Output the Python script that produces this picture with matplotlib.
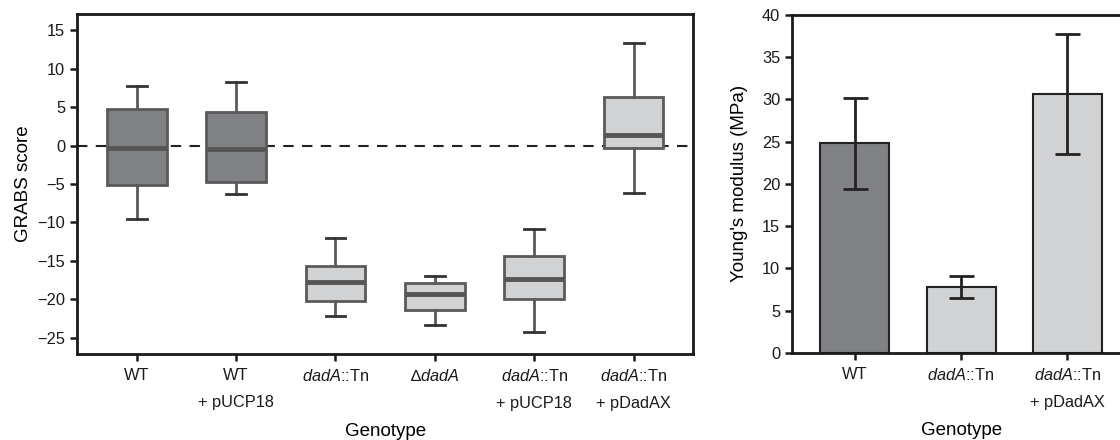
import matplotlib
matplotlib.use('Agg')
import matplotlib.pyplot as plt

plt.rcParams['font.family'] = ['Liberation Sans', 'DejaVu Sans']
plt.rcParams['mathtext.fontset'] = 'custom'
plt.rcParams['mathtext.rm'] = 'Liberation Sans'
plt.rcParams['mathtext.it'] = 'Liberation Sans:italic'

# левая панель: боксплоты GRABS score
box_labels = ['WT', 'WT\n+ pUCP18', r'$\it{dadA}$::Tn', '\u2206$\\it{dadA}$',
              '$\\it{dadA}$::Tn\n+ pUCP18', '$\\it{dadA}$::Tn\n+ pDadAX']
whislo = [-9.6, -6.3, -22.2, -23.3, -24.2, -6.2]
q1 = [-5.1, -4.7, -20.2, -21.4, -20.0, -0.3]
med = [-0.3, -0.45, -17.7, -19.3, -17.3, 1.35]
q3 = [4.7, 4.3, -15.7, -17.9, -14.4, 6.3]
whishi = [7.7, 8.2, -12.0, -17.0, -10.9, 13.3]
box_colors = ['#808185', '#808185', '#d1d2d4', '#d1d2d4', '#d1d2d4', '#d1d2d4']

# правая панель: модуль Юнга
bar_labels = ['WT', r'$\it{dadA}$::Tn', '$\\it{dadA}$::Tn\n+ pDadAX']
modulus = [24.8, 7.8, 30.6]
modulus_err = [5.4, 1.3, 7.1]
bar_colors = ['#808185', '#d1d2d4', '#d1d2d4']

fig = plt.figure(figsize=(11.2, 4.4), dpi=100)
ax1 = fig.add_axes([0.0688, 0.1955, 0.5502, 0.7727])
ax2 = fig.add_axes([0.7071, 0.198, 0.302, 0.768])

stats = []
for i in range(len(box_labels)):
    stats.append({'whislo': whislo[i], 'q1': q1[i], 'med': med[i],
                  'q3': q3[i], 'whishi': whishi[i], 'fliers': []})
pos = list(range(len(stats)))
ax1.axhline(0, color='#222222', lw=1.5, ls=(0, (5, 4)), zorder=1)
bp = ax1.bxp(stats, positions=pos, widths=0.6, capwidths=0.2, showfliers=False,
             patch_artist=True,
             boxprops=dict(edgecolor='#5a5a5a', linewidth=2),
             medianprops=dict(color='#555555', linewidth=3.5),
             whiskerprops=dict(color='#5a5a5a', linewidth=2),
             capprops=dict(color='#333333', linewidth=2))
for patch, c in zip(bp['boxes'], box_colors):
    patch.set_facecolor(c)
    patch.set_zorder(2)
ax1.set_xlim(-0.6, 5.6)
ax1.set_ylim(-27.1, 17.1)
ax1.set_yticks(range(-25, 16, 5))
ax1.set_yticklabels([str(v).replace('-', '\u2212') for v in range(-25, 16, 5)])
ax1.set_xticks(pos)
ax1.set_xticklabels(box_labels)
ax1.set_ylabel('GRABS score', fontsize=13.5, labelpad=4)
ax1.set_xlabel('Genotype', fontsize=13.5, labelpad=9)

x2 = list(range(len(modulus)))
ax2.bar(x2, modulus, width=0.65, color=bar_colors, edgecolor='#222222', linewidth=1.5, zorder=2)
ax2.errorbar(x2, modulus, yerr=modulus_err, fmt='none', ecolor='#222222',
             elinewidth=2, capsize=9, capthick=2, zorder=3)
ax2.set_xlim(-0.59, 2.59)
ax2.set_ylim(0, 40)
ax2.set_yticks(range(0, 41, 5))
ax2.set_xticks(x2)
ax2.set_xticklabels(bar_labels)
ax2.set_ylabel("Young's modulus (MPa)", fontsize=13.5, labelpad=10)
ax2.set_xlabel('Genotype', fontsize=13.5, labelpad=9)

for ax in (ax1, ax2):
    for s in ax.spines.values():
        s.set_linewidth(2)
        s.set_color('#1a1a1a')
    ax.tick_params(axis='both', direction='out', length=5, width=1.8,
                   labelsize=11.8, color='#1a1a1a', labelcolor='#1a1a1a')
    ax.tick_params(axis='x', pad=5)
    for lab in ax.get_xticklabels():
        lab.set_linespacing(2.0)

fig.savefig('out.png', dpi=100)
